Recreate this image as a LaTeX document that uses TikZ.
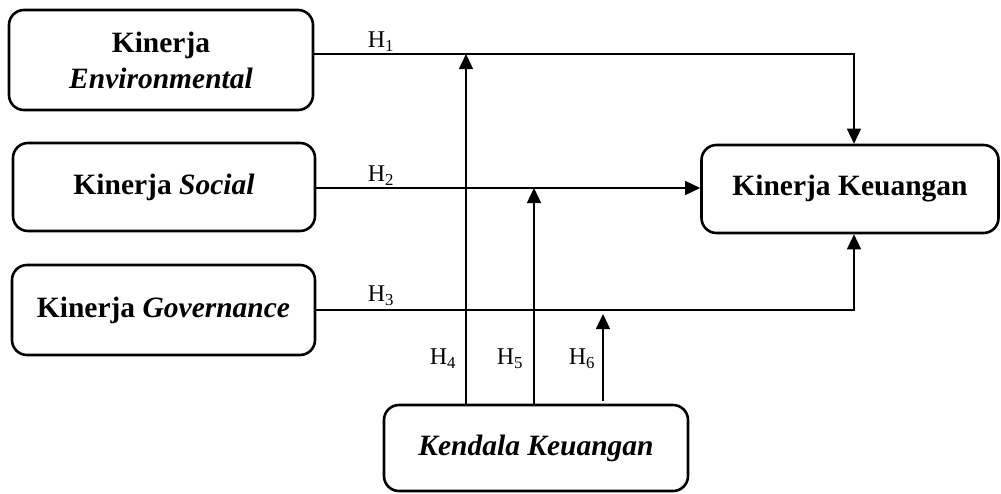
\documentclass[tikz,border=0pt]{standalone}
\usepackage{fontspec}
\setmainfont{Liberation Serif}
\usetikzlibrary{arrows.meta,calc}
\begin{document}
\begin{tikzpicture}[x=1pt,y=-1pt,
  box/.style={draw,line width=2.6pt,rounded corners=15pt,align=center,
    font=\fontsize{29.5}{36}\selectfont\bfseries,inner sep=0pt},
  arr/.style={line width=1.3pt,-{Triangle[length=15pt,width=14pt]}},
  hlab/.style={font=\fontsize{24}{26}\selectfont,inner sep=0pt}]
\useasboundingbox (0,0) rectangle (1001,493);
\node[box,minimum width=304pt,minimum height=100pt] (E) at (161,60) {Kinerja\\\textit{Environmental}};
\node[box,minimum width=302pt,minimum height=88pt] (S) at (164,187) {Kinerja \textit{Social}};
\node[box,minimum width=303pt,minimum height=90pt] (G) at (163.5,310) {Kinerja \textit{Governance}};
\node[box,minimum width=297pt,minimum height=88pt] (K) at (850,189) {Kinerja Keuangan};
\node[box,minimum width=304pt,minimum height=86pt] (D) at (536,448) {\textit{Kendala Keuangan}};
\coordinate (j1) at (854,54);
\coordinate (v4) at (466,0);
\coordinate (v5) at (534,0);
\coordinate (v6) at (603,314);
\draw[arr] (E.east |- j1) -- (j1) -- (K.north -| j1);
\draw[arr] (S.east |- 0,188) -- (K.west |- 0,188);
\draw[arr] (G.east) -- (G.east -| j1) -- (K.south -| j1);
\draw[arr] (D.north -| v4) -- (v4 |- j1);
\draw[arr] (D.north -| v5) -- (v5 |- 0,188);
\draw[arr] ($(D.north -| v6)+(0,-3)$) -- (v6);
\node[hlab] (h1) at (381,42) {H\textsubscript{1}};
\node[hlab] (h2) at (381,176) {H\textsubscript{2}};
\node[hlab] (h3) at (381,296) {H\textsubscript{3}};
\node[hlab] (h4) at (443,359) {H\textsubscript{4}};
\node[hlab] (h5) at (510,359) {H\textsubscript{5}};
\node[hlab] (h6) at (582,359) {H\textsubscript{6}};
\end{tikzpicture}
\end{document}
